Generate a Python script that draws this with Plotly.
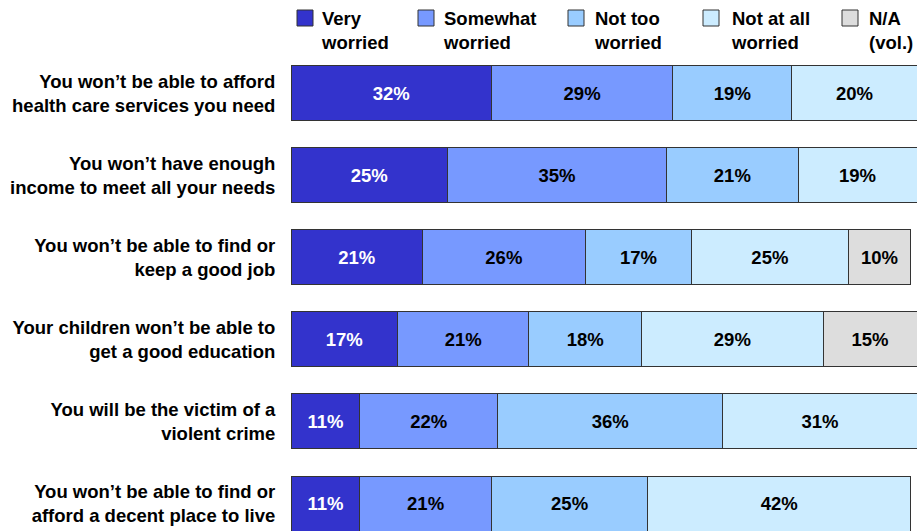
import plotly.graph_objects as go

# Survey items (top to bottom)
categories = [
    "You won\u2019t be able to afford<br>health care services you need",
    "You won\u2019t have enough<br>income to meet all your needs",
    "You won\u2019t be able to find or<br>keep a good job",
    "Your children won\u2019t be able to<br>get a good education",
    "You will be the victim of a<br>violent crime",
    "You won\u2019t be able to find or<br>afford a decent place to live",
]

# Share of respondents (%) per response
very_worried = [32, 25, 21, 17, 11, 11]
somewhat_worried = [29, 35, 26, 21, 22, 21]
not_too_worried = [19, 21, 17, 18, 36, 25]
not_at_all_worried = [20, 19, 25, 29, 31, 42]
na_vol = [None, None, 10, 15, None, None]

series_names = ["Very<br>worried", "Somewhat<br>worried", "Not too<br>worried",
                "Not at all<br>worried", "N/A<br>(vol.)"]
series_values = [very_worried, somewhat_worried, not_too_worried,
                 not_at_all_worried, na_vol]
series_colors = ["#3333CC", "#7799FF", "#99CCFF", "#CCECFF", "#DDDDDD"]
label_colors = ["white", "black", "black", "black", "black"]

FONT = "Arial, Liberation Sans, sans-serif"
FS = 18.5

W, H = 917, 531
ML, MT = 291, 52
PW, PH = W - ML, H - MT

fig = go.Figure()
for name, vals, col, tcol in zip(series_names, series_values, series_colors, label_colors):
    fig.add_trace(go.Bar(
        y=categories, x=vals, orientation="h", name=name,
        marker=dict(color=col, line=dict(color="#333333", width=1)),
        text=[f"{v}%" if v is not None else "" for v in vals],
        textposition="inside", insidetextanchor="middle", textangle=0,
        textfont=dict(family=FONT, size=FS, color=tcol, weight="bold"),
        hoverinfo="skip", showlegend=False,
    ))


def px_x(x):
    return (x - ML) / PW


def px_y(y):
    return (H - y) / PH


# Legend drawn as swatches and two-line labels along the top
legend_sw_x = [297, 418, 568, 703, 842]
legend_tx_x = [319, 441, 592, 729, 867]
shapes = []
annotations = []
for sx, tx, name, col in zip(legend_sw_x, legend_tx_x, series_names, series_colors):
    shapes.append(dict(type="rect", xref="paper", yref="paper",
                       x0=px_x(sx), x1=px_x(sx + 16), y0=px_y(26), y1=px_y(10),
                       fillcolor=col, line=dict(color="#333333", width=1)))
    annotations.append(dict(xref="paper", yref="paper", x=px_x(tx), y=px_y(6),
                            xanchor="left", yanchor="top", align="left",
                            text=name, showarrow=False,
                            font=dict(family=FONT, size=FS, color="black", weight="bold")))

fig.update_layout(
    width=W, height=H,
    margin=dict(l=ML, r=0, t=MT, b=0, pad=0),
    barmode="stack", bargap=0.33,
    plot_bgcolor="white", paper_bgcolor="white",
    xaxis=dict(range=[0, 100], visible=False, fixedrange=True),
    yaxis=dict(range=[5.335, -0.5], showgrid=False, zeroline=False, showline=False,
               ticks="outside", ticklen=11, tickcolor="rgba(0,0,0,0)",
               tickfont=dict(family=FONT, size=FS, color="black", weight="bold"),
               fixedrange=True),
    uniformtext=dict(minsize=FS, mode="show"),
    shapes=shapes, annotations=annotations,
    showlegend=False,
)

fig.write_html("out.html")
